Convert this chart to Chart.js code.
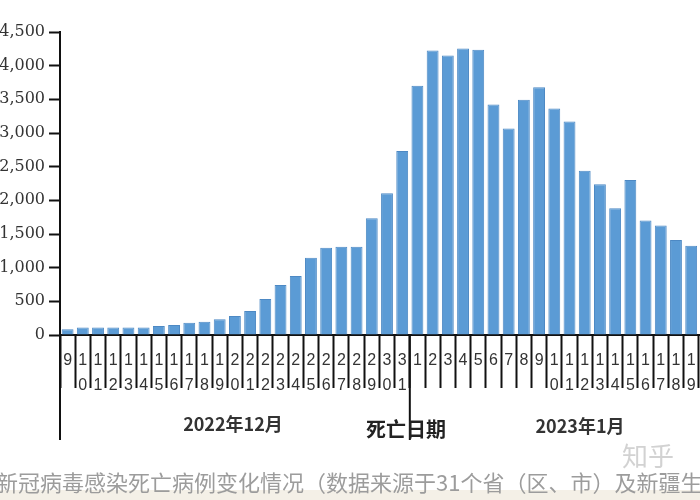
<!DOCTYPE html>
<html>
<head>
<meta charset="utf-8">
<script src="https://cdn.jsdelivr.net/npm/chart.js@4.4.0/dist/chart.umd.min.js"></script>
<style>
  html, body { margin: 0; padding: 0; background: #fff; }
  #wrap { position: relative; width: 700px; height: 500px; overflow: hidden; }
  #chart { position: absolute; left: 0; top: 0; }
  .txt { position: absolute; white-space: nowrap; transform: translate(-50%, -50%); }
  #band { position: absolute; left: 0; top: 490px; width: 700px; height: 10px; background: #f4f0e7; }
</style>
</head>
<body>
<div id="wrap">
  <canvas id="chart" width="720" height="500"></canvas>
  <div id="band"></div>
  <div class="txt" style="left:233px;top:423px;font:bold 18px 'Noto Sans CJK SC';color:#333;">2022年12月</div>
  <div class="txt" style="left:406px;top:428px;font:bold 20px 'Noto Sans CJK SC';color:#222;">死亡日期</div>
  <div class="txt" style="left:580px;top:425px;font:bold 18px 'Noto Sans CJK SC';color:#333;">2023年1月</div>
  <div class="txt" style="left:648px;top:454px;font:26px 'Noto Sans CJK SC';color:#d2d2d2;">知乎</div>
  <div class="txt" style="left:-4px;top:481px;transform:translate(0,-50%);font:22px 'Noto Sans CJK SC';color:#9c9c9c;">新冠病毒感染死亡病例变化情况（数据来源于31个省（区、市）及新疆生产建设兵团）</div>
</div>
<script>
// 日付ラベル（12月9日〜1月20日）
var dayLabels = ['9','10','11','12','13','14','15','16','17','18','19','20','21','22','23','24','25','26','27','28','29','30','31',
                 '1','2','3','4','5','6','7','8','9','10','11','12','13','14','15','16','17','18','19','20'];

// 死亡病例数
var deaths = [85, 110, 110, 110, 110, 110, 134, 149, 183, 198, 233, 282, 357, 535, 743, 877, 1149, 1297, 1312, 1312, 1733, 2105, 2734,
              3700, 4224, 4150, 4254, 4235, 3422, 3065, 3492, 3680, 3363, 3170, 2441, 2239, 1883, 2303, 1699, 1625, 1412, 1327, 1214];

var yTicks = [0, 500, 1000, 1500, 2000, 2500, 3000, 3500, 4000, 4500];

// 数字を縦に積む
var stacked = dayLabels.map(function(s) { return s.split(''); });

// 軸の下に長い線を引く
var longLines = {
  id: 'longLines',
  afterDraw: function(chart) {
    var ctx = chart.ctx, area = chart.chartArea, x = chart.scales.x;
    var split = (x.getPixelForValue(22) + x.getPixelForValue(23)) / 2;
    ctx.save();
    ctx.strokeStyle = '#111';
    ctx.lineWidth = 2;
    [area.left, split].forEach(function(px) {
      ctx.beginPath();
      ctx.moveTo(px, area.bottom);
      ctx.lineTo(px, 440);
      ctx.stroke();
    });
    ctx.restore();
  }
};

var ctx = document.getElementById('chart').getContext('2d');
var myChart = new Chart(ctx, {
  type: 'bar',
  data: {
    labels: stacked,
    datasets: [{
      data: deaths,
      backgroundColor: '#5b9bd5',
      borderColor: '#4d89c4',
      borderWidth: { top: 1, left: 1, right: 1, bottom: 0 },
      barPercentage: 0.78,
      categoryPercentage: 1.0
    }]
  },
  options: {
    responsive: false,
    animation: false,
    layout: { padding: { top: 32, right: 6, bottom: 0, left: 0 } },
    plugins: { legend: { display: false }, tooltip: { enabled: false } },
    scales: {
      x: {
        offset: true,
        grid: { display: true, drawOnChartArea: false, offset: true, tickLength: 53, tickColor: '#111', tickWidth: 2 },
        border: { display: true, color: '#111', width: 2 },
        ticks: {
          autoSkip: false, maxRotation: 0, minRotation: 0, padding: -39.5,
          color: '#333', font: { family: 'Liberation Sans', size: 16, lineHeight: 25 / 16 }
        },
        afterFit: function(scale) { scale.height = 165; }
      },
      y: {
        min: 0, max: 4500,
        afterBuildTicks: function(scale) { scale.ticks = yTicks.map(function(v) { return { value: v }; }); },
        grid: { display: true, drawOnChartArea: false, tickLength: 11, tickColor: '#111', tickWidth: 2 },
        border: { display: true, color: '#111', width: 2 },
        ticks: {
          padding: 4, color: '#333',
          font: { family: 'DejaVu Serif', size: 16 },
          callback: function(v) { return v.toLocaleString('en-US'); }
        },
        afterFit: function(scale) { scale.width = 60; }
      }
    }
  },
  plugins: [longLines]
});
</script>
</body>
</html>
